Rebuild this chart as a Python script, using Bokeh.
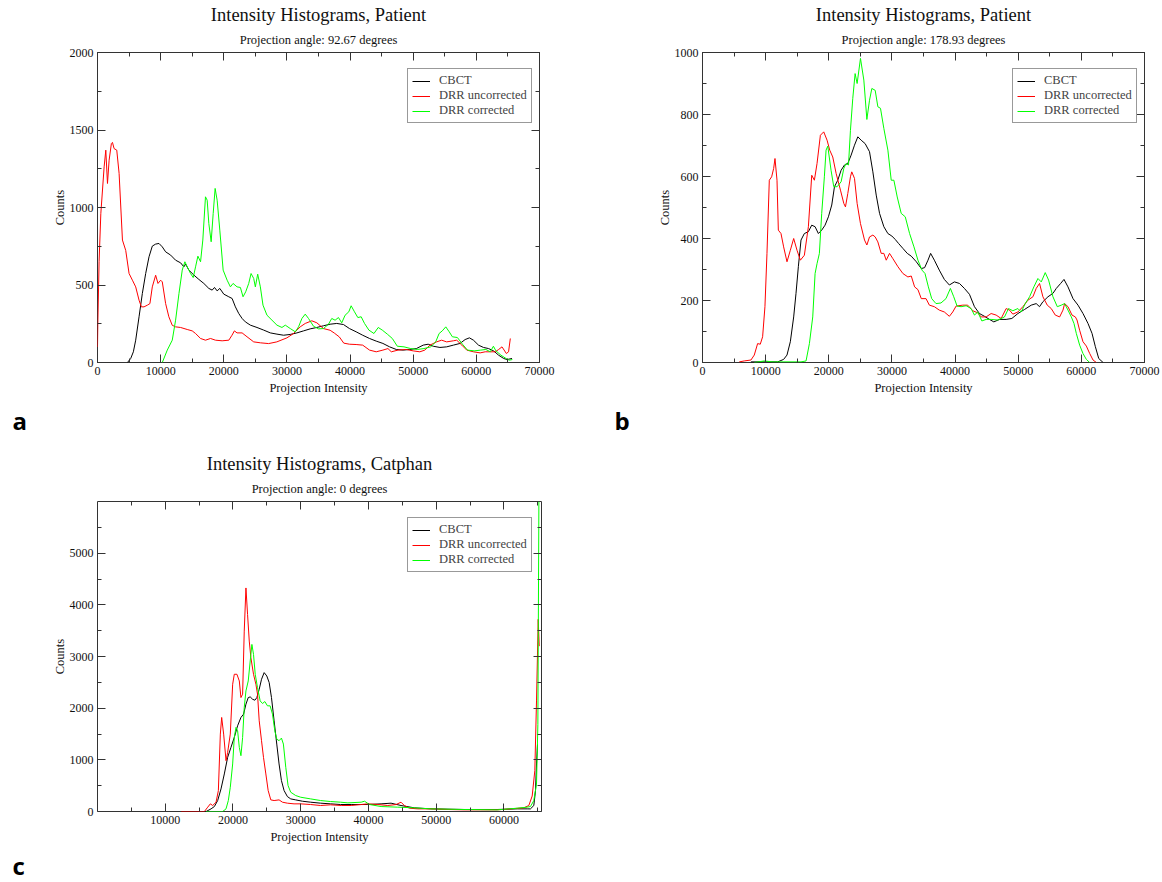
from bokeh.plotting import figure
from bokeh.models import (Range1d, LinearAxis, SingleIntervalTicker, FixedTicker,
                          Title, Legend, LegendItem)
from bokeh.layouts import column, row
from bokeh.embed import file_html
from bokeh.resources import INLINE

# ---------------- data ----------------
SERIES = ["CBCT", "DRR uncorrected", "DRR corrected"]

# Panel a: Patient, 92.67 degrees
A_CBCT_X = [4740, 5260, 5680, 6050, 6580, 7100, 7630, 8160, 8680, 9210, 9740, 10260, 10790, 11580, 12370, 13160, 13680, 13950, 14470, 15260, 16050, 16840, 17630, 18160, 18530, 18950, 19370, 20000, 20790, 21320, 21840, 22370, 22900, 23420, 24210, 25260, 26320, 27370, 28420, 29470, 30530, 31580, 32630, 33680, 34740, 35790, 36840, 37890, 38950, 39900, 40960, 42000, 43080, 44140, 45200, 46260, 47320, 48400, 49450, 50500, 51580, 52370, 53170, 54230, 55300, 56360, 57420, 58220, 58900, 59540, 60340, 61130, 61930, 62730, 63530, 64330, 64860, 65650]
A_CBCT_Y = [0, 26, 69, 144, 295, 445, 574, 682, 751, 764, 768, 746, 714, 693, 660, 643, 617, 635, 596, 564, 536, 510, 478, 467, 484, 462, 478, 441, 424, 413, 359, 316, 284, 262, 241, 226, 209, 191, 183, 176, 181, 191, 204, 217, 226, 237, 247, 252, 245, 219, 198, 176, 155, 138, 123, 101, 84, 80, 84, 90, 112, 118, 105, 97, 101, 112, 123, 148, 159, 144, 112, 97, 90, 75, 47, 26, 19, 26]
A_UNC_X = [0, 50, 250, 526, 1050, 1316, 1580, 1840, 2200, 2370, 2630, 3050, 3420, 3950, 4470, 5000, 5530, 6050, 6580, 6950, 7370, 7900, 8300, 8680, 9210, 9580, 10000, 10260, 10790, 11300, 11840, 12370, 13160, 14210, 15000, 15530, 16320, 17100, 17900, 18680, 19740, 20800, 21300, 21680, 22100, 22900, 23680, 24740, 25800, 27100, 28400, 30000, 31050, 32100, 32900, 33950, 34740, 35790, 36840, 37500, 38300, 39000, 39900, 40960, 42000, 43080, 44140, 45200, 46000, 46530, 47600, 48900, 50000, 51050, 51840, 52640, 53700, 54500, 55300, 56360, 56890, 57700, 58480, 59540, 60600, 61400, 62200, 63000, 63530, 64060, 64750, 65100, 65380]
A_UNC_Y = [100, 250, 650, 960, 1262, 1370, 1155, 1305, 1413, 1420, 1380, 1370, 1220, 790, 723, 574, 531, 488, 402, 359, 359, 370, 380, 488, 563, 510, 531, 520, 380, 295, 240, 230, 226, 213, 204, 187, 155, 144, 155, 144, 140, 144, 176, 204, 191, 191, 166, 133, 127, 122, 133, 159, 187, 230, 252, 269, 256, 219, 208, 190, 165, 125, 118, 116, 112, 80, 69, 80, 90, 69, 80, 84, 75, 69, 80, 112, 133, 144, 133, 140, 144, 112, 80, 69, 62, 69, 69, 69, 84, 101, 58, 69, 155]
A_COR_X = [10260, 11050, 11840, 12370, 12900, 13420, 13840, 14210, 14740, 15160, 15530, 15900, 16320, 16680, 17100, 17370, 17630, 18000, 18320, 18630, 18950, 19370, 19900, 20530, 21050, 21470, 22100, 22630, 23050, 23470, 23950, 24320, 24740, 25000, 25370, 25790, 26210, 26840, 27630, 28420, 29210, 29740, 30530, 31320, 31840, 32370, 32900, 33420, 34210, 35000, 35790, 36580, 37100, 37630, 38160, 38680, 39210, 39800, 40170, 40700, 41230, 41760, 42290, 42980, 43780, 44460, 45100, 45900, 46690, 47480, 48540, 49600, 50650, 51700, 52770, 53560, 54100, 54600, 55160, 55700, 56200, 57000, 57800, 58600, 59650, 60700, 61500, 62200, 62700, 63100, 63900, 64700, 65200, 65700]
A_COR_Y = [0, 80, 144, 273, 445, 596, 650, 617, 574, 548, 617, 686, 650, 790, 1069, 1047, 897, 779, 961, 1123, 1047, 854, 596, 531, 488, 510, 488, 484, 424, 456, 510, 574, 542, 488, 570, 488, 370, 305, 273, 241, 226, 241, 219, 198, 230, 284, 312, 284, 234, 217, 219, 247, 284, 273, 290, 256, 305, 327, 366, 327, 290, 295, 252, 209, 187, 226, 209, 183, 155, 105, 101, 90, 84, 90, 101, 133, 187, 204, 230, 198, 166, 161, 118, 80, 75, 80, 84, 69, 105, 75, 47, 26, 15, 19]

# Panel b: Patient, 178.93 degrees
B_CBCT_X = [7670, 11900, 12850, 13380, 13910, 14440, 14810, 15180, 15600, 16130, 16770, 17300, 17830, 18350, 18880, 19410, 19940, 20470, 20900, 21420, 21950, 22480, 23010, 23540, 24070, 24600, 25130, 25760, 26450, 26980, 27510, 28040, 28720, 29360, 29990, 30520, 31050, 31740, 32430, 33060, 33860, 34650, 35180, 35710, 36130, 36720, 37500, 38300, 39100, 39890, 40690, 41480, 42280, 43070, 43860, 44660, 45450, 46140, 47040, 48090, 48990, 49950, 51000, 52060, 52850, 53380, 53910, 54710, 55500, 56030, 56720, 57250, 57880, 58680, 59470, 60260, 61050, 61690, 62220, 62750, 63440]
B_CBCT_Y = [2, 2, 10, 24, 67, 147, 223, 309, 395, 416, 422, 443, 438, 416, 427, 443, 470, 508, 567, 588, 620, 637, 642, 669, 701, 728, 717, 706, 680, 615, 540, 481, 438, 416, 408, 397, 384, 368, 352, 343, 325, 303, 306, 330, 352, 330, 298, 268, 250, 260, 255, 239, 220, 180, 158, 149, 139, 131, 139, 139, 142, 158, 171, 185, 190, 180, 196, 212, 223, 239, 255, 268, 244, 206, 185, 158, 126, 94, 51, 13, 0]
B_UNC_X = [5820, 6610, 7670, 8200, 8730, 9150, 9520, 9890, 10210, 10580, 10950, 11270, 11480, 11800, 12010, 12430, 12850, 13380, 13910, 14440, 14970, 15500, 16130, 16770, 17300, 17720, 18140, 18670, 19200, 19730, 20150, 20630, 21160, 21850, 22380, 22640, 23010, 23430, 23640, 24070, 24490, 25020, 25660, 26030, 26450, 26980, 27350, 27770, 28300, 28720, 29100, 29620, 30150, 30950, 31740, 32530, 33060, 33590, 34120, 34650, 35400, 35930, 36720, 37500, 38300, 39100, 39630, 40160, 41220, 42000, 42800, 43600, 44130, 44920, 45710, 46500, 47300, 48090, 48620, 49150, 49950, 50740, 51530, 52330, 52850, 53380, 53910, 54600, 55230, 55870, 56560, 57090, 57350, 57880, 58520, 59050, 59310, 59730, 60260, 60790, 61320, 61850, 62380]
B_UNC_Y = [2, 5, 8, 24, 61, 59, 83, 180, 352, 588, 599, 626, 658, 588, 427, 416, 373, 325, 362, 400, 362, 330, 346, 438, 604, 588, 642, 733, 744, 717, 685, 663, 610, 556, 513, 502, 545, 599, 615, 594, 513, 448, 395, 379, 405, 411, 405, 389, 352, 352, 330, 352, 335, 309, 287, 276, 279, 244, 235, 206, 206, 185, 180, 169, 163, 149, 163, 182, 185, 185, 167, 160, 147, 147, 158, 153, 142, 174, 169, 156, 163, 180, 201, 212, 239, 255, 212, 185, 174, 153, 147, 169, 190, 180, 153, 147, 137, 104, 67, 53, 29, 8, 0]
B_COR_X = [8200, 9790, 11110, 15600, 16400, 16930, 17460, 17830, 18140, 18510, 18880, 19300, 19570, 19840, 20360, 20790, 21320, 21950, 22380, 22740, 23120, 23430, 23800, 24170, 24490, 25020, 25550, 26030, 26450, 26820, 27350, 27770, 28190, 28720, 29360, 29890, 30310, 30840, 31470, 32110, 32800, 33490, 34120, 34760, 35240, 35770, 36300, 36980, 37770, 38560, 39260, 39790, 40320, 40950, 41750, 42540, 43070, 43600, 44240, 44920, 45710, 46770, 47830, 48460, 49150, 49950, 50470, 51110, 51800, 52480, 53120, 53650, 54280, 54810, 55500, 56190, 56820, 57350, 57880, 58410, 58830, 59200, 59730, 60260, 60790, 61320]
B_COR_Y = [0, 5, 2, 2, 5, 61, 147, 287, 319, 352, 481, 599, 685, 698, 620, 567, 567, 583, 626, 642, 637, 749, 852, 932, 900, 981, 911, 784, 846, 884, 878, 825, 820, 755, 685, 588, 588, 534, 481, 470, 416, 373, 330, 298, 287, 244, 206, 190, 192, 206, 239, 212, 182, 180, 183, 174, 153, 163, 134, 139, 139, 137, 147, 174, 167, 174, 163, 190, 212, 244, 271, 260, 290, 266, 212, 180, 185, 190, 169, 147, 126, 94, 56, 29, 10, 0]

# Panel c: Catphan, 0 degrees
C_CBCT_X = [12350, 16030, 16760, 17250, 17740, 18230, 18720, 19210, 19700, 20190, 20680, 21170, 21560, 21910, 22250, 22540, 22890, 23230, 23520, 23870, 24210, 24600, 24990, 25340, 25680, 26070, 26460, 26800, 27150, 27540, 28030, 28520, 29260, 30240, 31460, 32930, 34400, 35870, 37450, 39900, 41860, 43330, 44800, 46760, 49210, 54110, 59010, 61950, 63420, 63900, 64400, 64650, 64800, 64950]
C_CBCT_Y = [0, 0, 51, 96, 212, 437, 727, 1048, 1241, 1434, 1659, 1820, 1884, 2077, 2205, 2218, 2173, 2154, 2205, 2366, 2559, 2688, 2623, 2495, 2205, 1755, 1305, 920, 598, 405, 289, 244, 225, 199, 180, 161, 148, 135, 135, 135, 148, 161, 116, 71, 51, 39, 39, 51, 51, 50, 115, 400, 920, 1300]
C_UNC_X = [12350, 15780, 16270, 16660, 17000, 17500, 17840, 18130, 18330, 18620, 18970, 19210, 19600, 19950, 20190, 20580, 20930, 21170, 21420, 21660, 21910, 22150, 22400, 22640, 23030, 23380, 23620, 23870, 24210, 24500, 24850, 25190, 25580, 26070, 26800, 27300, 28030, 29010, 30000, 31460, 32930, 34400, 35980, 37450, 38920, 39900, 41370, 42840, 44070, 44800, 45290, 46030, 47250, 49210, 51660, 54110, 56560, 59010, 60970, 62930, 63670, 64160, 64550, 64800, 65050, 65200]
C_UNC_Y = [0, 0, 84, 148, 116, 180, 405, 1498, 1820, 1498, 984, 1145, 1498, 2463, 2656, 2656, 2527, 2205, 2270, 3491, 4327, 3813, 3299, 2977, 2656, 2463, 2270, 1755, 1370, 1048, 727, 405, 225, 212, 225, 180, 161, 148, 148, 135, 116, 129, 116, 116, 135, 148, 135, 116, 135, 180, 116, 64, 51, 51, 39, 32, 32, 32, 51, 71, 116, 300, 790, 2140, 3720, 3200]
C_COR_X = [16030, 18480, 18970, 19310, 19600, 19950, 20190, 20440, 20680, 20930, 21170, 21420, 21660, 21910, 22250, 22540, 22790, 23030, 23280, 23620, 24010, 24360, 24700, 25090, 25480, 25830, 26170, 26460, 26800, 27150, 27440, 27790, 28130, 28520, 29260, 30000, 31460, 32930, 34400, 35870, 36960, 38920, 39410, 40150, 41860, 44310, 46760, 49210, 54110, 59010, 61950, 63420, 63910, 64400, 64800, 65000, 65150]
C_COR_Y = [0, 0, 51, 212, 469, 920, 1434, 1627, 1563, 1241, 1080, 1434, 2013, 2334, 2527, 2913, 3234, 3041, 2656, 2398, 2141, 2090, 2128, 2045, 2045, 1884, 1563, 1402, 1370, 1421, 1305, 855, 502, 373, 309, 276, 244, 212, 193, 180, 167, 180, 199, 135, 96, 84, 71, 51, 39, 32, 64, 84, 96, 212, 530, 1680, 6000]

PANELS = [
    dict(title="Intensity Histograms, Patient", sub="Projection angle: 92.67 degrees", letter="a",
         xmax=70000, ymax=2000, xtick=10000, ytick=500, letter_off=-85, letter_standoff=8,
         data=[(A_CBCT_X, A_CBCT_Y), (A_UNC_X, A_UNC_Y), (A_COR_X, A_COR_Y)]),
    dict(title="Intensity Histograms, Patient", sub="Projection angle: 178.93 degrees", letter="b",
         xmax=70000, ymax=1000, xtick=10000, ytick=200, letter_off=-88, letter_standoff=8,
         data=[(B_CBCT_X, B_CBCT_Y), (B_UNC_X, B_UNC_Y), (B_COR_X, B_COR_Y)]),
    dict(title="Intensity Histograms, Catphan", sub="Projection angle: 0 degrees", letter="c",
         xmax=65536, ymax=6000, xtick=None, ytick=None, letter_off=-85, letter_standoff=1,
         data=[(C_CBCT_X, C_CBCT_Y), (C_UNC_X, C_UNC_Y), (C_COR_X, C_COR_Y)]),
]

C_X_TICKS = [10000, 20000, 30000, 40000, 50000, 60000]
C_X_MINOR = [5000, 15000, 25000, 35000, 45000, 55000, 65000]
C_Y_TICKS = [0, 1000, 2000, 3000, 4000, 5000]
C_Y_MINOR = [500, 1500, 2500, 3500, 4500, 5500]

COLORS = ["#000000", "#ff0000", "#00ff00"]
SERIF = "Liberation Serif"
FRAME = "#333333"
TEXT = "#111111"


def style_axis(ax, show, label_standoff=3):
    ax.axis_line_color = None
    ax.major_tick_in = 8
    ax.major_tick_out = 0
    ax.minor_tick_in = 4
    ax.minor_tick_out = 0
    ax.major_tick_line_color = FRAME
    ax.minor_tick_line_color = FRAME
    ax.major_label_text_font = SERIF
    if show:
        ax.major_label_text_font_size = "12px"
        ax.major_label_text_color = TEXT
        ax.major_label_standoff = 4
    else:
        ax.major_label_text_font_size = "1px"
        ax.major_label_text_color = None
        ax.major_label_standoff = 0
    ax.axis_label_text_font = SERIF
    ax.axis_label_text_font_size = "12.5px"
    ax.axis_label_text_font_style = "normal"
    ax.axis_label_text_color = TEXT
    ax.axis_label_standoff = label_standoff


def make_panel(cfg, width, height, bl, br, bt, bb):
    p = figure(width=width, height=height, output_backend="svg", toolbar_location=None,
               x_range=Range1d(0, cfg["xmax"]), y_range=Range1d(0, cfg["ymax"]),
               min_border_left=bl, min_border_right=br, min_border_top=bt, min_border_bottom=bb)
    p.xgrid.visible = False
    p.ygrid.visible = False
    p.outline_line_color = FRAME
    p.outline_line_width = 1

    def xt():
        if cfg["xtick"]:
            return SingleIntervalTicker(interval=cfg["xtick"], num_minor_ticks=2)
        return FixedTicker(ticks=C_X_TICKS, minor_ticks=C_X_MINOR)

    def yt():
        if cfg["ytick"]:
            return SingleIntervalTicker(interval=cfg["ytick"], num_minor_ticks=2)
        return FixedTicker(ticks=C_Y_TICKS, minor_ticks=C_Y_MINOR)

    p.xaxis.ticker = xt()
    p.yaxis.ticker = yt()
    p.xaxis.axis_label = "Projection Intensity"
    p.yaxis.axis_label = "Counts"
    style_axis(p.xaxis[0], True, 3)
    style_axis(p.yaxis[0], True, 0)
    top = LinearAxis(ticker=xt())
    right = LinearAxis(ticker=yt())
    style_axis(top, False)
    style_axis(right, False)
    p.add_layout(top, "above")
    p.add_layout(right, "right")

    items = []
    for (xs, ys), name, col in zip(cfg["data"], SERIES, COLORS):
        r = p.line(xs, ys, line_color=col, line_width=1)
        items.append(LegendItem(label=name, renderers=[r]))

    leg = Legend(items=items, location=(310, 239), label_text_font=SERIF,
                 label_text_font_size="12.5px", label_text_line_height=0.8,
                 label_height=12, glyph_height=12,
                 glyph_width=18, label_standoff=9, padding=4, spacing=0, margin=0,
                 border_line_color=FRAME, border_line_width=1,
                 background_fill_color="white", background_fill_alpha=1.0)
    p.add_layout(leg)

    p.add_layout(Title(text=cfg["sub"], align="center", text_font=SERIF,
                       text_font_size="12.5px", text_font_style="normal",
                       text_color=TEXT, standoff=12), "above")
    p.add_layout(Title(text=cfg["title"], align="center", text_font=SERIF,
                       text_font_size="18.5px", text_font_style="normal",
                       text_color=TEXT, standoff=0), "above")
    p.add_layout(Title(text=cfg["letter"], align="left", offset=cfg["letter_off"],
                       text_font="Open Sans", text_font_size="24px", text_font_style="bold",
                       text_color="#000000", standoff=cfg["letter_standoff"]), "below")
    return p


pa = make_panel(PANELS[0], 605, 440, 97, 66, 52, 78)
pb = make_panel(PANELS[1], 557, 440, 97, 18, 52, 78)
pc = make_panel(PANELS[2], 605, 442, 97, 64, 61, 71)

layout = column(row(pa, pb), pc)
open("out.html", "w").write(file_html(layout, INLINE))
